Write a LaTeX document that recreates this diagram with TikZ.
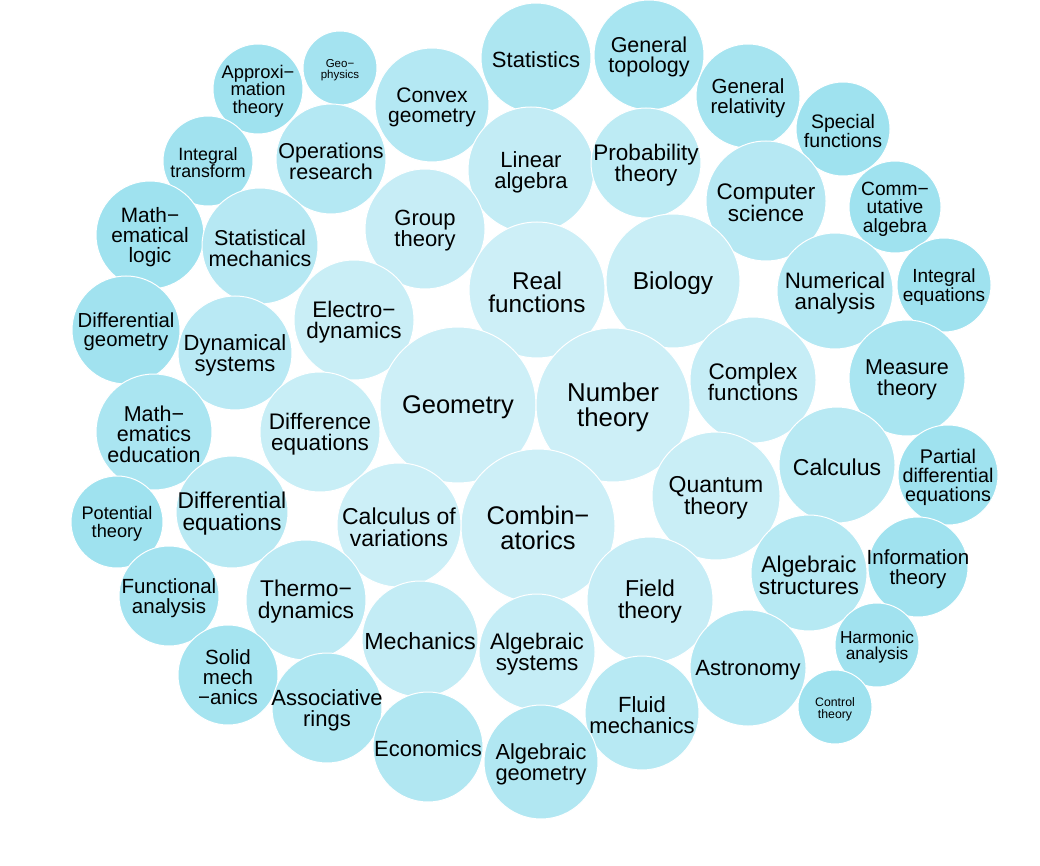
\documentclass[tikz,border=0pt]{standalone}
\usepackage{fontspec}
\setmainfont{Liberation Sans}
\definecolor{clight}{HTML}{CDEFF7}
\definecolor{cdark}{HTML}{9FE2EF}
\tikzset{
  bubtext/.style={align=center, inner sep=0pt, text=black, yshift=-2pt},
  bubdisc/.style={draw=white, line width=1pt}
}
\newcommand\bub[6]{%
  \pgfmathsetmacro\bubq{max(0,min(1,(veclen(#2-530,#3-420)-150)/270))}%
  \pgfmathsetmacro\bubp{100*(\bubq^1.5)}%
  \pgfmathsetmacro\bubl{0.96*#5}%
  \path[bubdisc, fill=cdark!\bubp!clight] (#2,#3) circle[radius=#4pt];
  \node[bubtext, font={\fontsize{#5}{\bubl}\selectfont}] (#1) at (#2,#3) {#6};
}
\begin{document}
\begin{tikzpicture}[x=1pt,y=-1pt]
\useasboundingbox (0,0) rectangle (1040,866);
\bub{stat}{536}{58}{55}{22}{Statistics}
\bub{gtop}{649}{55}{55}{21.5}{General\\topology}
\bub{geoph}{340}{68}{37}{11.5}{Geo−\\physics}
\bub{approx}{258}{89}{45}{18.3}{Approxi−\\mation\\theory}
\bub{convex}{432}{105}{57}{21}{Convex\\geometry}
\bub{grel}{748}{96}{52}{20.4}{General\\relativity}
\bub{spec}{843}{129}{47}{19.5}{Special\\functions}
\bub{linalg}{531}{170}{63}{22}{Linear\\algebra}
\bub{prob}{646}{163}{55}{22.5}{Probability\\theory}
\bub{inttr}{208}{161}{45}{17.8}{Integral\\transform}
\bub{opres}{331}{159}{55}{21.5}{Operations\\research}
\bub{comp}{766}{201}{60}{22.5}{Computer\\science}
\bub{comm}{895}{207}{46}{19.2}{Comm−\\utative\\algebra}
\bub{mlogic}{150}{235}{54}{20.8}{Math−\\ematical\\logic}
\bub{statmech}{260}{246}{58}{21.5}{Statistical\\mechanics}
\bub{group}{425}{229}{60}{22}{Group\\theory}
\bub{real}{537}{290}{68}{24.3}{Real\\functions}
\bub{bio}{673}{281}{67}{24.5}{Biology}
\bub{numan}{835}{291}{58}{22.3}{Numerical\\analysis}
\bub{inteq}{944}{285}{47}{19}{Integral\\equations}
\bub{diffgeo}{126}{330}{54}{20.3}{Differential\\geometry}
\bub{electro}{354}{320}{60}{22.5}{Electro−\\dynamics}
\bub{dynsys}{235}{353}{57}{22}{Dynamical\\systems}
\bub{complex}{753}{380}{63}{22.5}{Complex\\functions}
\bub{measure}{907}{378}{58}{21.5}{Measure\\theory}
\bub{geom}{458}{405}{78}{25.5}{Geometry}
\bub{numth}{613}{405}{77}{25.8}{Number\\theory}
\bub{mathed}{154}{432}{58}{21.5}{Math−\\ematics\\education}
\bub{diffce}{320}{432}{60}{22.5}{Difference\\equations}
\bub{calc}{837}{465}{58}{23}{Calculus}
\bub{pde}{948}{475}{50}{19.8}{Partial\\differential\\equations}
\bub{quant}{716}{496}{64}{23}{Quantum\\theory}
\bub{comb}{538}{526}{77}{25.5}{Combin−\\atorics}
\bub{calcvar}{399}{525}{62}{23}{Calculus of\\variations}
\bub{diffeq}{232}{512}{56}{22.8}{Differential\\equations}
\bub{pot}{117}{522}{46}{18.2}{Potential\\theory}
\bub{info}{918}{567}{50}{20.5}{Information\\theory}
\bub{algstr}{809}{573}{58}{22.8}{Algebraic\\structures}
\bub{field}{650}{600}{63}{23}{Field\\theory}
\bub{func}{169}{596}{50}{20.5}{Functional\\analysis}
\bub{thermo}{306}{600}{60}{22.8}{Thermo−\\dynamics}
\bub{mech}{420}{639}{58}{23.3}{Mechanics}
\bub{algsys}{537}{652}{58}{22.5}{Algebraic\\systems}
\bub{harm}{877}{645}{42}{17.3}{Harmonic\\analysis}
\bub{astro}{748}{668}{58}{22}{Astronomy}
\bub{solid}{228}{675}{50}{20.5}{Solid\\mech\\−anics}
\bub{assoc}{327}{708}{55}{22}{Associative\\rings}
\bub{fluid}{642}{713}{57}{22}{Fluid\\mechanics}
\bub{control}{835}{707}{37}{12.3}{Control\\theory}
\bub{econ}{428}{747}{55}{22}{Economics}
\bub{alggeo}{541}{762}{57}{21.8}{Algebraic\\geometry}
\end{tikzpicture}
\end{document}
